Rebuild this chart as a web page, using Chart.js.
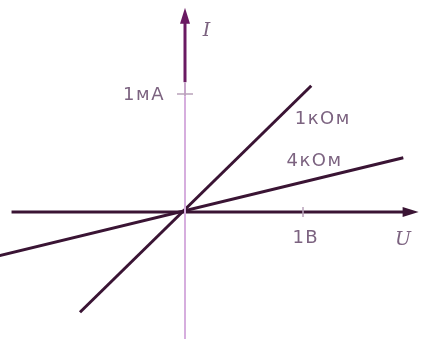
<!DOCTYPE html>
<html>
<head>
<meta charset="utf-8">
<script src="https://cdn.jsdelivr.net/npm/chart.js@4.4.1/dist/chart.umd.min.js"></script>
<style>
  html, body { margin: 0; padding: 0; background: #fff; }
  #wrap { width: 422px; height: 339px; }
</style>
</head>
<body>
<div id="wrap"><canvas id="myChart"></canvas></div>
<script>
// resistor labels and the two I(U) lines (U in volts, I in mA)
const seriesLabels = ['1кОм', '4кОм'];
const line1kU = [-0.89, 1.07];
const line1kI = [-0.85, 1.07];
const line4kU = [-1.57, 1.85];
const line4kI = [-0.37, 0.46];

// axes extents and tick labels
const axisU = [-1.47, 1.98];
const axisI = [-1.08, 1.73];
const tickLabels = ['1мА', '1В'];
const axisTitles = ['I', 'U'];

const lineColor = '#3a1434';
const textColor = '#7c6380';

function pts(xs, ys) {
  return xs.map((x, i) => ({ x: x, y: ys[i] }));
}

// arrows, ticks and text, placed through the scales
const decor = {
  id: 'decor',
  afterDatasetsDraw(chart) {
    const ctx = chart.ctx;
    const sx = chart.scales.x, sy = chart.scales.y;
    const px = v => sx.getPixelForValue(v);
    const py = v => sy.getPixelForValue(v);
    ctx.save();

    // tick marks
    ctx.strokeStyle = '#b9a3bb';
    ctx.lineWidth = 1.5;
    ctx.beginPath();
    ctx.moveTo(px(0) - 8, py(1)); ctx.lineTo(px(0) + 8, py(1));
    ctx.moveTo(px(1), py(0) - 5); ctx.lineTo(px(1), py(0) + 5);
    ctx.stroke();

    // arrow heads
    ctx.fillStyle = '#6a1a62';
    ctx.beginPath();
    ctx.moveTo(px(0), py(axisI[1]));
    ctx.lineTo(px(0) - 5, py(axisI[1]) + 16);
    ctx.lineTo(px(0) + 5, py(axisI[1]) + 16);
    ctx.closePath();
    ctx.fill();
    ctx.fillStyle = lineColor;
    ctx.beginPath();
    ctx.moveTo(px(axisU[1]), py(0));
    ctx.lineTo(px(axisU[1]) - 16, py(0) - 5);
    ctx.lineTo(px(axisU[1]) - 16, py(0) + 5);
    ctx.closePath();
    ctx.fill();

    ctx.fillStyle = textColor;
    ctx.letterSpacing = '1.5px';
    ctx.font = '18px "DejaVu Sans"';
    ctx.textBaseline = 'alphabetic';
    ctx.textAlign = 'left';
    ctx.fillText(seriesLabels[0], px(0.93), py(0.75));
    ctx.fillText(seriesLabels[1], px(0.86), py(0.39));
    ctx.textAlign = 'right';
    ctx.fillText(tickLabels[0], px(-0.17), py(0.95));
    ctx.textAlign = 'left';
    ctx.fillText(tickLabels[1], px(0.91), py(-0.26));

    ctx.letterSpacing = '0px';
    ctx.font = 'italic 19px "DejaVu Serif"';
    ctx.fillText(axisTitles[0], px(0.15), py(1.49));
    ctx.fillText(axisTitles[1], px(1.78), py(-0.28));
    ctx.restore();
  }
};

new Chart(document.getElementById('myChart'), {
  type: 'scatter',
  data: {
    datasets: [
      { data: pts([0, 0], [axisI[0], 0.98]), borderColor: '#d6aede', borderWidth: 2 },
      { data: pts([0, 0], [0.98, 1.1]), borderColor: '#c7a6cb', borderWidth: 2 },
      { data: pts([0, 0], [1.1, axisI[1] - 0.1]), borderColor: '#6a1a62', borderWidth: 3 },
      { data: pts([axisU[0], axisU[1] - 0.1], [0, 0]), borderColor: lineColor, borderWidth: 3 },
      { label: seriesLabels[0], data: pts(line1kU, line1kI), borderColor: lineColor, borderWidth: 3 },
      { label: seriesLabels[1], data: pts(line4kU, line4kI), borderColor: lineColor, borderWidth: 3 }
    ].map(d => Object.assign({ showLine: true, pointRadius: 0, fill: false }, d))
  },
  options: {
    responsive: true,
    maintainAspectRatio: false,
    animation: false,
    layout: { padding: 0 },
    plugins: { legend: { display: false }, tooltip: { enabled: false } },
    scales: {
      x: { type: 'linear', min: -185 / 118, max: 237 / 118, display: false },
      y: { type: 'linear', min: -127 / 118, max: 212 / 118, display: false }
    }
  },
  plugins: [decor]
});
</script>
</body>
</html>
